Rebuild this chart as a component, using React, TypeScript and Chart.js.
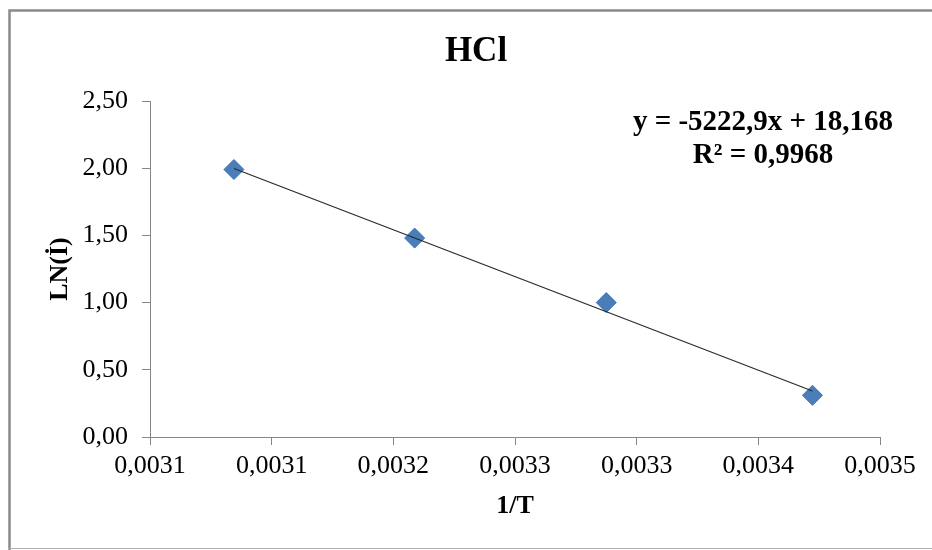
import React, { useEffect, useRef } from "react";
import { Chart, registerables } from "chart.js";

Chart.register(...registerables);

// ---- data ----
const chartTitle = "HCl";
const xAxisTitle = "1/T";
const yAxisTitle = "LN(İ)";
const xValues = [0.003096, 0.003195, 0.0033, 0.003413];
const yValues = [1.99, 1.48, 1.0, 0.31];
const xTickLabels = ["0,0031", "0,0031", "0,0032", "0,0033", "0,0033", "0,0034", "0,0035"];
const yTickLabels = ["0,00", "0,50", "1,00", "1,50", "2,00", "2,50"];
const xRange = [0.00305, 0.00345];
const yRange = [0, 2.5];
const trendSlope = -5222.9;
const trendIntercept = 18.168;
const equationLines = ["y = -5222,9x + 18,168", "R² = 0,9968"];

const FONT = "'Liberation Serif', 'Times New Roman', serif";
const AXIS_COLOR = "#868686";

const decorations = {
  id: "decorations",
  afterDraw(chart: any) {
    const ctx = chart.ctx as CanvasRenderingContext2D;
    const area = chart.chartArea;
    ctx.save();
    // outer frame
    ctx.strokeStyle = "#8a8a8a";
    ctx.lineWidth = 2.5;
    ctx.beginPath();
    ctx.moveTo(9.5, 560);
    ctx.lineTo(9.5, 10.5);
    ctx.lineTo(940, 10.5);
    ctx.stroke();
    ctx.strokeStyle = "#b0b0b0";
    ctx.lineWidth = 1;
    ctx.beginPath();
    ctx.moveTo(9, 548.5);
    ctx.lineTo(940, 548.5);
    ctx.stroke();

    ctx.fillStyle = "#000";
    // title
    ctx.font = `bold 35px ${FONT}`;
    ctx.textAlign = "center";
    ctx.textBaseline = "alphabetic";
    ctx.fillText(chartTitle, 476, 61);

    // x axis title
    ctx.font = `bold 26px ${FONT}`;
    ctx.fillText(xAxisTitle, (area.left + area.right) / 2, 513);

    // y axis title
    ctx.save();
    ctx.translate(67, (area.top + area.bottom) / 2);
    ctx.rotate(-Math.PI / 2);
    ctx.fillText(yAxisTitle, 0, 0);
    ctx.restore();

    // equation
    ctx.font = `bold 29px ${FONT}`;
    ctx.fillText(equationLines[0], 763, 130);
    ctx.fillText(equationLines[1], 763, 163);
    ctx.restore();
  },
};

export default function App() {
  const canvasRef = useRef<HTMLCanvasElement | null>(null);

  useEffect(() => {
    if (!canvasRef.current) return;
    const points = xValues.map((x, i) => ({ x, y: yValues[i] }));
    const xFirst = xValues[0];
    const xLast = xValues[xValues.length - 1];
    const trend = [
      { x: xFirst, y: trendSlope * xFirst + trendIntercept },
      { x: xLast, y: trendSlope * xLast + trendIntercept },
    ];

    const chart = new Chart(canvasRef.current, {
      type: "scatter",
      data: {
        datasets: [
          {
            type: "line",
            label: "Linear (HCl)",
            data: trend,
            borderColor: "#2a2a2a",
            borderWidth: 1.2,
            pointRadius: 0,
            showLine: true,
            fill: false,
            order: 0,
          } as any,
          {
            label: "HCl",
            data: points,
            pointStyle: "rectRot",
            pointRadius: 10,
            pointHoverRadius: 10,
            backgroundColor: "#4A7EBB",
            borderColor: "#3F72AF",
            borderWidth: 1,
            order: 1,
          },
        ],
      },
      options: {
        responsive: false,
        animation: false,
        layout: { padding: { left: 0, right: 52, top: 101, bottom: 0 } },
        plugins: {
          legend: { display: false },
          tooltip: { enabled: false },
          title: { display: false },
        },
        scales: {
          x: {
            type: "linear",
            position: "bottom",
            min: xRange[0],
            max: xRange[1],
            afterBuildTicks: (scale: any) => {
              const n = xTickLabels.length;
              scale.ticks = xTickLabels.map((_, i) => ({
                value: xRange[0] + (i * (xRange[1] - xRange[0])) / (n - 1),
              }));
            },
            afterFit: (scale: any) => {
              scale.height = 113;
            },
            ticks: {
              callback: (_v: any, i: number) => xTickLabels[i],
              font: { family: FONT, size: 26 },
              color: "#000",
              padding: 6,
              maxRotation: 0,
              autoSkip: false,
            },
            grid: {
              drawOnChartArea: false,
              drawTicks: true,
              tickLength: 8,
              color: AXIS_COLOR,
            },
            border: { color: AXIS_COLOR, width: 1 },
          },
          y: {
            type: "linear",
            min: yRange[0],
            max: yRange[1],
            afterFit: (scale: any) => {
              scale.width = 150;
            },
            ticks: {
              stepSize: 0.5,
              callback: (_v: any, i: number) => yTickLabels[i],
              font: { family: FONT, size: 26 },
              color: "#000",
              padding: 14,
              autoSkip: false,
            },
            grid: {
              drawOnChartArea: false,
              drawTicks: true,
              tickLength: 8,
              color: AXIS_COLOR,
            },
            border: { color: AXIS_COLOR, width: 1 },
          },
        },
      },
      plugins: [decorations],
    });
    return () => chart.destroy();
  }, []);

  return (
    <div style={{ position: "fixed", left: 0, top: 0, width: 932, height: 550, background: "#fff" }}>
      <canvas ref={canvasRef} width={932} height={550} style={{ display: "block" }} />
    </div>
  );
}
